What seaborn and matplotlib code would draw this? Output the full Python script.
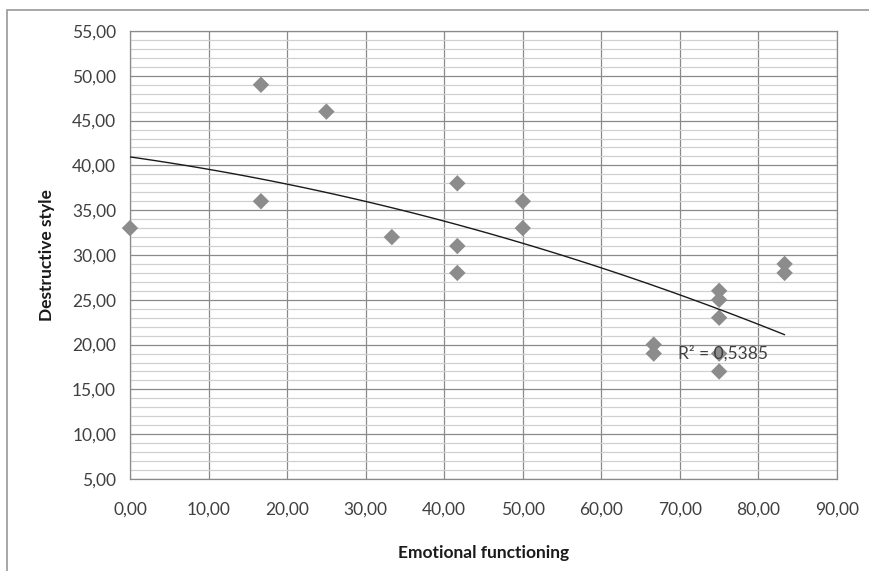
import numpy as np
import pandas as pd
import matplotlib
matplotlib.use("Agg")
import matplotlib.pyplot as plt
from matplotlib.ticker import MultipleLocator, FuncFormatter
from matplotlib.patches import Rectangle
import seaborn as sns

emotional = [0.0, 16.67, 16.67, 25.0, 33.33, 41.67, 41.67, 41.67, 50.0, 50.0,
             66.67, 66.67, 75.0, 75.0, 75.0, 75.0, 75.0, 83.33, 83.33]
destructive = [33, 49, 36, 46, 32, 38, 31, 28, 36, 33,
               20, 19, 26, 25, 23, 19, 17, 29, 28]
r2_label = "R² = 0,5385"
x_label = "Emotional functioning"
y_label = "Destructive style"

df = pd.DataFrame({"x": emotional, "y": destructive})

sns.set_style("white")
plt.rcParams['font.family'] = ['Lato', 'DejaVu Sans']

fig = plt.figure(figsize=(8.7, 5.71), dpi=100)
ax = fig.add_axes([130/870, 1-479/571, (837-130)/870, (479-31)/571])

# figure frame (cropped: top and left only visible)
fig.patches.append(Rectangle((7/870, -0.1), 1.2, 1 - 10/571 + 0.1, transform=fig.transFigure,
                             fill=False, edgecolor='#a0a0a0', linewidth=1.3, zorder=0))

ax.set_xlim(0, 90)
ax.set_ylim(5, 55)
ax.xaxis.set_major_locator(MultipleLocator(10))
ax.yaxis.set_major_locator(MultipleLocator(5))
ax.yaxis.set_minor_locator(MultipleLocator(1))
fmt = FuncFormatter(lambda v, p: f"{v:.2f}".replace(".", ","))
ax.xaxis.set_major_formatter(fmt)
ax.yaxis.set_major_formatter(fmt)

ax.grid(which='major', axis='both', color='#8a8a8a', linewidth=0.9, zorder=0)
ax.grid(which='minor', axis='y', color='#d0d0d0', linewidth=0.9, zorder=0)
ax.set_axisbelow(True)

for side in ['top', 'right', 'left', 'bottom']:
    ax.spines[side].set_color('#8a8a8a')
    ax.spines[side].set_linewidth(0.9)

ax.tick_params(axis='both', which='major', length=5, width=0.9, color='#8a8a8a',
               labelsize=12.5, labelcolor='#404040', direction='out')
ax.tick_params(axis='x', pad=11)
ax.tick_params(axis='y', pad=5)
ax.tick_params(which='minor', length=0)

sns.regplot(data=df, x="x", y="y", order=2, ci=None, truncate=True, ax=ax, marker='D',
            scatter_kws=dict(s=70, color='#8c8c8c', edgecolor='none', zorder=3, alpha=1,
                             clip_on=False),
            line_kws=dict(color='#1a1a1a', linewidth=1.0, zorder=4))

ax.text(69.7, 19, r2_label, fontsize=12.5, color='#404040', va='center', ha='left', zorder=5)

ax.set_xlabel(x_label, fontsize=12.5, fontweight='bold', color='#1a1a1a', labelpad=20)
ax.set_ylabel(y_label, fontsize=12.5, fontweight='bold', color='#1a1a1a', labelpad=12)

fig.savefig("out.png", dpi=100)
